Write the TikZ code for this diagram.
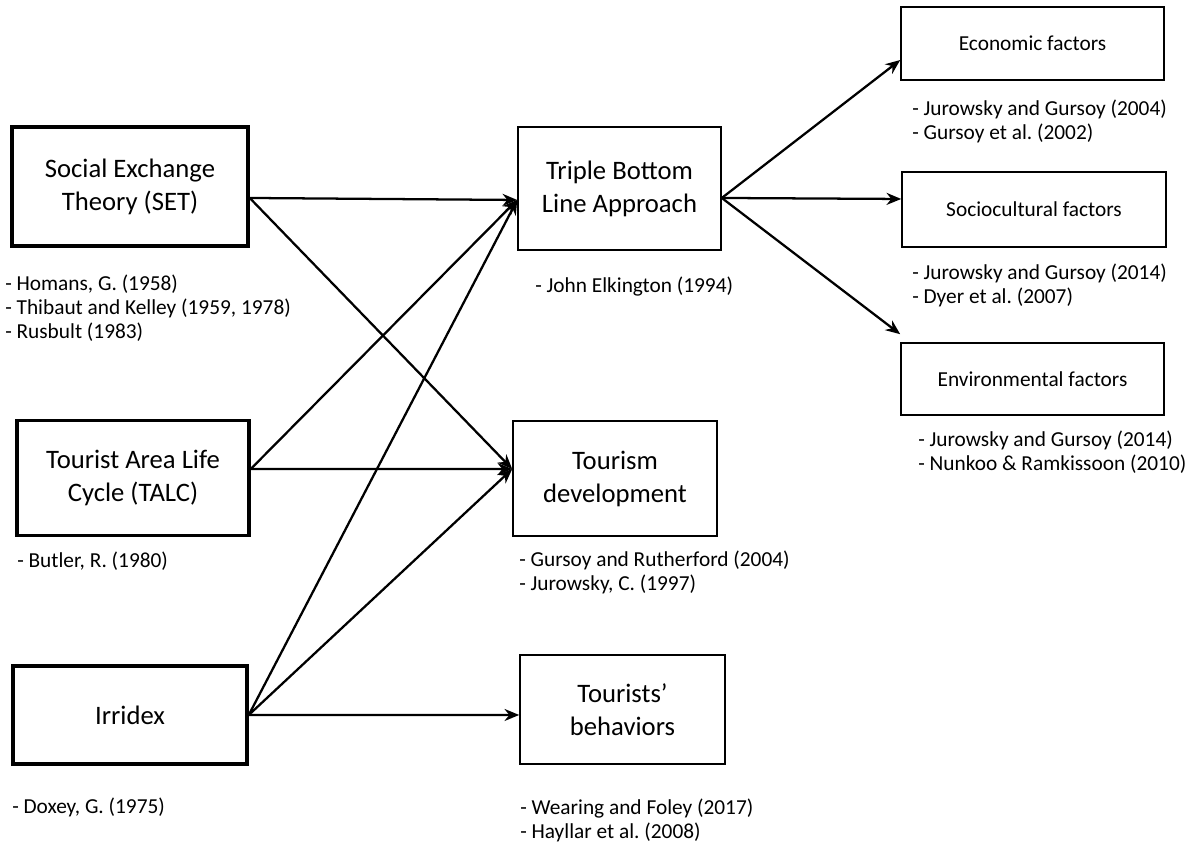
\documentclass[tikz,border=0pt]{standalone}
\usepackage{fontspec}
\setmainfont{Carlito}
\usetikzlibrary{arrows.meta, positioning}
\frenchspacing

\begin{document}
\begin{tikzpicture}[x=0.75pt, y=-0.75pt,
    theory/.style={draw, rectangle, align=center, line width=2.6pt, inner sep=0pt,
      font=\fontsize{20}{24.75}\selectfont},
    target/.style={draw, rectangle, align=center, line width=1.2pt, inner sep=0pt,
      font=\fontsize{20}{24.75}\selectfont},
    factor/.style={draw, rectangle, align=center, line width=1.2pt, inner sep=0pt,
      font=\fontsize{16}{18}\selectfont},
    refs/.style={anchor=base west, align=left, inner sep=0pt,
      font=\fontsize{16}{18}\selectfont},
    arr/.style={-{Stealth[length=11pt, width=9pt]}, line width=1.7pt}]

  \useasboundingbox (0,0) rectangle (1196,847);

  % theories
  \node[theory, minimum width=177pt, minimum height=89.25pt] (set) at (130,186.5) {Social Exchange\\Theory (SET)};
  \node[theory, minimum width=174pt, minimum height=86.25pt] (talc) at (133,478) {Tourist Area Life\\Cycle (TALC)};
  \node[theory, minimum width=175.5pt, minimum height=73.5pt] (irr) at (130,715) {Irridex};

  % targets
  \node[target, minimum width=152.25pt, minimum height=92.25pt] (tbl) at (619.5,188.5) {Triple Bottom\\Line Approach};
  \node[target, minimum width=153pt, minimum height=86.25pt] (td) at (615,478.5) {Tourism\\development};
  \node[target, minimum width=153.75pt, minimum height=81.75pt] (tb) at (622.5,709.5) {Tourists'\\behaviors};

  % factors
  \node[factor, minimum width=197.25pt, minimum height=54.75pt] (econ) at (1032.5,43.5) {Economic factors};
  \node[factor, minimum width=198pt, minimum height=56.25pt] (socio) at (1034,209.5) {Sociocultural factors};
  \node[factor, minimum width=197.25pt, minimum height=54pt] (env) at (1032.5,379) {Environmental factors};

  % references (base = last line)
  \node[refs] (setref) at (5,338) {- Homans, G. (1958)\\- Thibaut and Kelley (1959, 1978)\\- Rusbult (1983)};
  \node[refs] (talcref) at (17,567) {- Butler, R. (1980)};
  \node[refs] (irrref) at (12,813) {- Doxey, G. (1975)};
  \node[refs] (tblref) at (535,292) {- John Elkington (1994)};
  \node[refs] (tdref) at (519,590) {- Gursoy and Rutherford (2004)\\- Jurowsky, C. (1997)};
  \node[refs] (tbref) at (520,838) {- Wearing and Foley (2017)\\- Hayllar et al. (2008)};
  \node[refs] (econref) at (912,139) {- Jurowsky and Gursoy (2004)\\- Gursoy et al. (2002)};
  \node[refs] (socioref) at (912,303) {- Jurowsky and Gursoy (2014)\\- Dyer et al. (2007)};
  \node[refs] (envref) at (918,470) {- Jurowsky and Gursoy (2014)\\- Nunkoo \& Ramkissoon (2010)};

  % connectors
  \draw[arr] ([yshift=-8.6pt]set.east) -- ([yshift=-8.6pt]tbl.west);
  \draw[arr] ([yshift=-8.6pt]set.east) -- ([yshift=7.1pt]td.west);
  \draw[arr] ([yshift=6.75pt]talc.east) -- ([yshift=-8.6pt]tbl.west);
  \draw[arr] ([yshift=6.75pt]talc.east) -- ([yshift=7.1pt]td.west);
  \draw[arr] (irr.east) -- ([yshift=-8.6pt]tbl.west);
  \draw[arr] (irr.east) -- ([yshift=7.1pt]td.west);
  \draw[arr] (irr.east) -- ([yshift=-4.1pt]tb.west);
  \draw[arr] ([yshift=-7.1pt]tbl.east) -- ([yshift=-12.4pt]econ.west);
  \draw[arr] ([yshift=-7.1pt]tbl.east) -- ([yshift=7.9pt]socio.west);
  \draw[arr] ([yshift=-7.1pt]tbl.east) -- ([yshift=6pt]env.north west);
\end{tikzpicture}
\end{document}
